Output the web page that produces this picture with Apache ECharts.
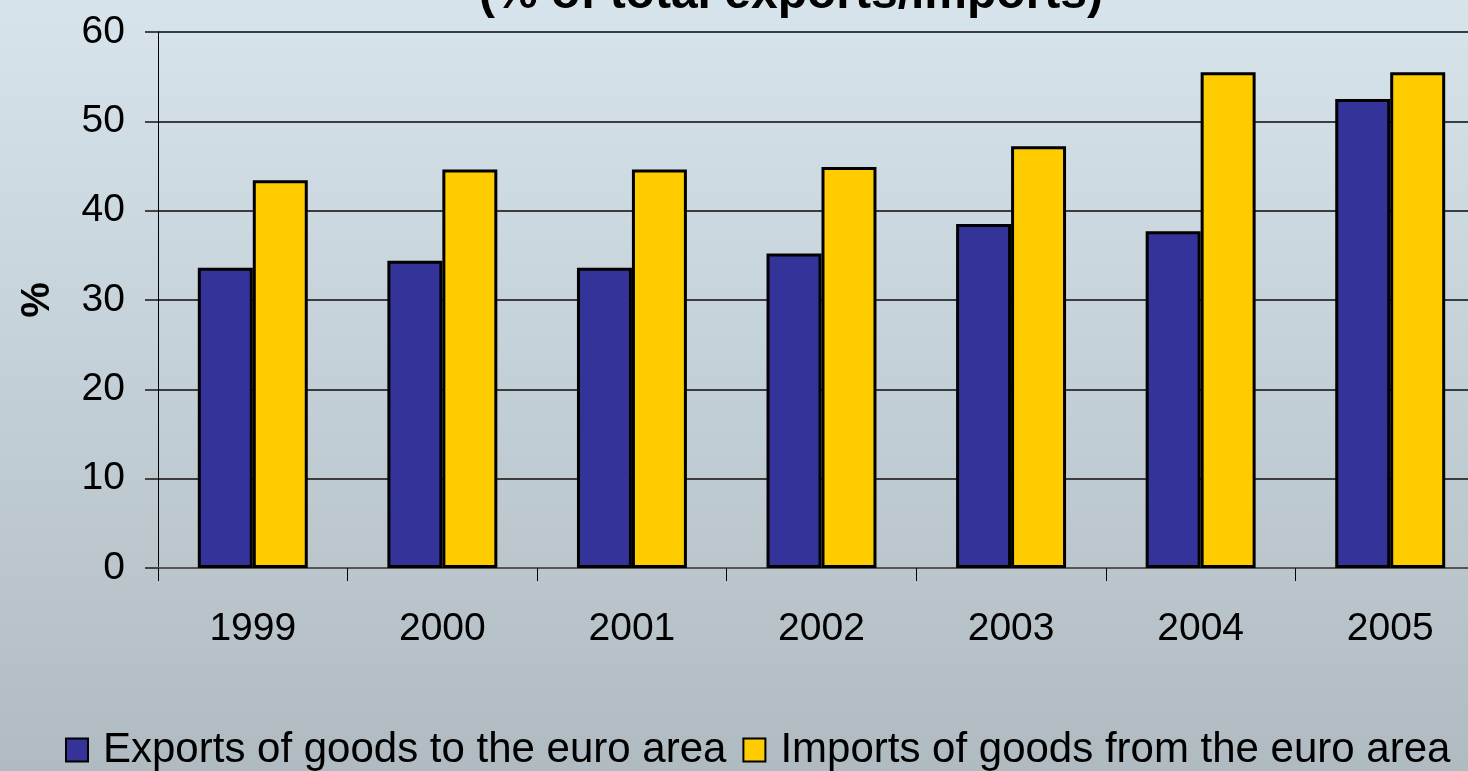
<!DOCTYPE html>
<html>
<head>
<meta charset="utf-8">
<script src="https://cdn.jsdelivr.net/npm/echarts@6/dist/echarts.min.js"></script>
<style>
html,body{margin:0;padding:0;overflow:hidden;width:1468px;height:771px;}
#main{width:1485px;height:771px;}
</style>
</head>
<body>
<div id="main"></div>
<script>
var categories = ['1999','2000','2001','2002','2003','2004','2005'];
var exportsShare = [33.6, 34.4, 33.6, 35.2, 38.5, 37.7, 52.5];
var importsShare = [43.4, 44.6, 44.6, 44.9, 47.2, 55.5, 55.5];
var seriesNames = ['Exports of goods to the euro area', 'Imports of goods from the euro area'];
var titleText = '(% of total exports/imports)';
var yTicks = {min: 0, max: 60, interval: 10};

var FONT = '"Liberation Sans", Arial, sans-serif';
var chart = echarts.init(document.getElementById('main'));
chart.setOption({
  animation: false,
  backgroundColor: {
    type: 'linear', x: 0, y: 0, x2: 0, y2: 1,
    colorStops: [{offset: 0, color: '#d7e4ec'}, {offset: 1, color: '#b0bbc1'}]
  },
  graphic: [{
    type: 'text', x: 791, y: 19,
    style: {text: titleText, font: 'bold 48px ' + FONT, fill: '#000', textAlign: 'center', textVerticalAlign: 'bottom', verticalAlign: 'bottom'}
  }],
  grid: {left: 158, top: 32, right: 0, bottom: 203, containLabel: false},
  legend: {
    left: 60, top: 723,
    itemWidth: 22, itemHeight: 23, itemGap: 16,
    icon: 'rect',
    itemStyle: {borderColor: '#000', borderWidth: 2},
    textStyle: {fontFamily: FONT, fontSize: 42, color: '#000', lineHeight: 44, padding: [0, 0, 0, 10]},
    data: seriesNames
  },
  xAxis: {
    type: 'category', data: categories,
    axisLine: {show: true, lineStyle: {color: '#555', width: 2}},
    axisTick: {show: true, length: 13, lineStyle: {color: '#000', width: 1}},
    axisLabel: {fontFamily: FONT, fontSize: 39, color: '#000', margin: 42}
  },
  yAxis: {
    type: 'value', min: yTicks.min, max: yTicks.max, interval: yTicks.interval,
    name: '%', nameLocation: 'middle', nameGap: 100, nameRotate: 90,
    nameTextStyle: {fontFamily: FONT, fontSize: 40, fontWeight: 'bold', color: '#000'},
    axisLine: {show: true, lineStyle: {color: '#000', width: 1}},
    axisTick: {show: true, length: 13, lineStyle: {color: '#444', width: 2}},
    splitLine: {show: true, lineStyle: {color: '#3c3c3c', width: 2}},
    axisLabel: {fontFamily: FONT, fontSize: 39, color: '#000', margin: 33}
  },
  series: [{
    name: seriesNames[0], type: 'bar', data: exportsShare,
    barGap: '0%', barCategoryGap: '42%',
    itemStyle: {color: '#333399', borderColor: '#000', borderWidth: 3}
  }, {
    name: seriesNames[1], type: 'bar', data: importsShare,
    barGap: '0%', barCategoryGap: '42%',
    itemStyle: {color: '#ffcc00', borderColor: '#000', borderWidth: 3}
  }]
});
</script>
</body>
</html>
